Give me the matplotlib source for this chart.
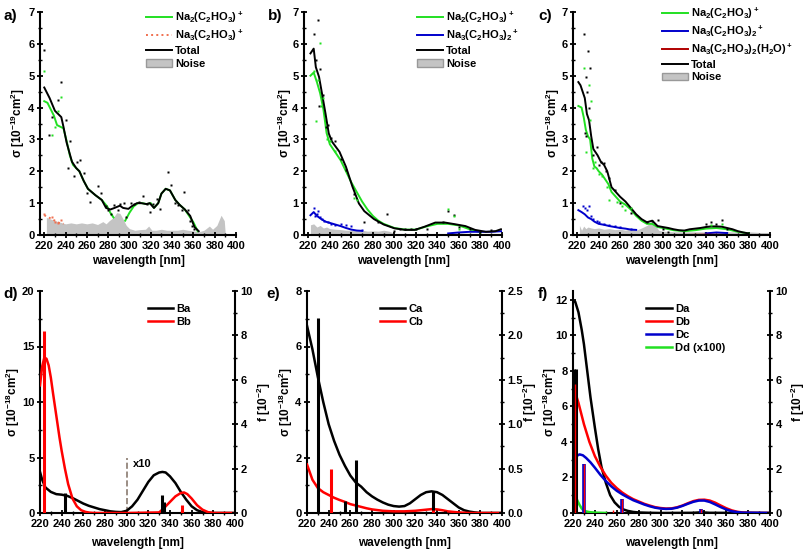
import numpy as np
import matplotlib
matplotlib.use("Agg")
import matplotlib.pyplot as plt
from matplotlib.lines import Line2D
from matplotlib.patches import Patch
from matplotlib.ticker import MultipleLocator

plt.rcParams["font.family"] = ["Liberation Sans", "DejaVu Sans"]
plt.rcParams["font.weight"] = "bold"
plt.rcParams["axes.labelweight"] = "bold"
plt.rcParams["mathtext.fontset"] = "custom"
plt.rcParams["mathtext.rm"] = "Liberation Sans:bold"
plt.rcParams["mathtext.it"] = "Liberation Sans:bold"
plt.rcParams["mathtext.bf"] = "Liberation Sans:bold"
plt.rcParams["mathtext.default"] = "rm"

GREEN = "#22e022"
BLUE = "#0000cc"
RED = "#ff0000"
GRAY = "#c4c4c4"

# ---------------- panel a (10^-19 cm^2) ----------------
a_tot_x = [220, 225, 230, 233, 236, 238, 241, 246, 250, 253, 257, 261, 268, 274, 278, 282, 286, 291, 294,
           299, 302, 307, 311, 316, 319, 323, 327, 330, 334, 338, 343, 347, 352, 357, 361, 365]
a_tot_y = [4.63, 4.3, 3.9, 3.8, 3.7, 3.4, 2.9, 2.3, 2.1, 2.0, 1.7, 1.45, 1.25, 1.1, 0.85, 0.8, 0.85, 0.92, 0.85,
           0.82, 0.9, 1.0, 1.0, 0.97, 1.0, 0.85, 1.0, 1.3, 1.45, 1.4, 1.1, 0.95, 0.8, 0.6, 0.25, 0.12]
a_na2_x = [220, 223, 226, 229, 232, 235, 238, 241, 244, 247, 250, 253, 257, 261, 268, 274, 279, 282, 285,
           290, 296, 300, 304, 308, 312, 316, 320, 323, 327, 330, 334, 338, 343, 347, 352, 356, 360, 364]
a_na2_y = [4.2, 4.15, 3.95, 3.75, 3.45, 3.4, 3.35, 2.95, 2.5, 2.2, 2.1, 2.0, 1.7, 1.45, 1.25, 1.1, 0.9, 0.7, 0.55,
           np.nan, 0.45, 0.7, 0.9, 1.0, 1.0, 0.97, 1.0, 0.85, 1.0, 1.3, 1.45, 1.4, 1.1, 0.95, 0.8, 0.6, 0.4, 0.12]
a_na3_x = [220, 226, 230, 234, 238]
a_na3_y = [0.62, 0.52, 0.45, 0.38, 0.35]
a_pts_x = [220, 224, 227, 233, 236, 240, 242, 244, 248, 251, 254, 257, 260, 263, 270, 273, 278, 280, 283,
           285, 289, 291, 295, 297, 301, 304, 309, 313, 316, 319, 322, 326, 329, 336, 339, 343, 346, 349,
           351, 355, 357, 359, 361]
a_pts_y = [5.82, 3.13, 3.69, 4.25, 4.81, 3.6, 2.1, 2.95, 1.85, 2.28, 2.35, 1.95, 1.33, 1.05, 1.55, 1.33, 0.92,
           0.78, 0.65, 0.95, 0.8, 0.98, 1.0, 0.55, 1.02, 0.98, 1.05, 1.22, 0.98, 0.72, 0.98, 1.12, 0.83, 1.98,
           1.57, 1.02, 0.95, 0.8, 1.35, 0.8, 0.45, 0.28, 0.2]
a_gpts_x = [220, 227, 230, 233, 236]
a_gpts_y = [5.16, 3.13, 3.4, 3.9, 4.34]
a_opts_x = [220, 227, 230, 233, 236]
a_opts_y = [0.65, 0.55, 0.42, 0.39, 0.47]
a_noise_x = [222, 226, 230, 235, 240, 245, 250, 255, 260, 265, 270, 275, 278, 281, 285, 288, 291, 294, 297,
             300, 305, 310, 315, 318, 321, 325, 330, 335, 340, 345, 350, 355, 360, 365, 370, 375, 378, 382,
             386, 389, 390]
a_noise_y = [0.55, 0.5, 0.45, 0.4, 0.35, 0.38, 0.35, 0.38, 0.35, 0.38, 0.33, 0.42, 0.35, 0.45, 0.55, 0.7, 0.68,
             0.5, 0.3, 0.2, 0.15, 0.17, 0.18, 0.28, 0.15, 0.15, 0.18, 0.15, 0.15, 0.15, 0.18, 0.15, 0.13, 0.1,
             0.15, 0.28, 0.18, 0.3, 0.62, 0.45, 0.0]

# ---------------- panel b (10^-18 cm^2) ----------------
b_tot_x = [222, 225, 227, 230, 233, 236, 239, 242, 249, 255, 261, 267, 272, 281, 290, 300, 310, 319, 328,
           338, 347, 356, 366, 375, 385, 394, 399]
b_tot_y = [5.7, 5.85, 5.27, 4.96, 4.39, 3.81, 3.19, 2.93, 2.61, 2.14, 1.52, 0.99, 0.75, 0.5, 0.33, 0.21, 0.16,
           0.16, 0.26, 0.39, 0.39, 0.34, 0.28, 0.16, 0.1, 0.12, 0.18]
b_na2_x = [222, 225, 228, 231, 234, 237, 240, 245, 250, 255, 260, 265, 270, 275, 280, 285, 290, 300, 310,
           320, 330, 340, 350, 360, 370, 380]
b_na2_y = [5.0, 5.1, 4.8, 4.45, 3.95, 3.2, 2.85, 2.6, 2.35, 2.0, 1.65, 1.35, 1.05, 0.8, 0.6, 0.45, 0.35,
           0.22, 0.17, 0.17, 0.27, 0.35, 0.35, 0.3, 0.18, 0.08]
b_na3_x = [222, 225, 228, 232, 236, 240, 245, 250, 255, 260, 265, 270, np.nan, 350, 360, 370, 380, 390, 400]
b_na3_y = [0.62, 0.72, 0.6, 0.5, 0.42, 0.38, 0.33, 0.28, 0.22, 0.17, 0.14, 0.13, np.nan, 0.05, 0.08, 0.1,
           0.1, 0.1, 0.12]
b_pts_x = [225, 227, 229, 230, 231, 234, 236, 238, 241, 245, 250, 255, 262, 272, 285, 293, 300, 305, 310,
           315, 320, 330, 345, 350, 355, 360, 370, 380, 390]
b_pts_y = [6.3, 5.5, 6.75, 4.05, 5.22, 4.4, 3.4, 3.45, 3.05, 2.95, 2.38, 2.05, 1.3, 0.42, 0.42, 0.65, 0.12,
           0.18, 0.2, 0.18, 0.2, 0.18, 0.42, 0.75, 0.62, 0.25, 0.2, 0.1, 0.15]
b_gpts_x = [225, 227, 229, 231, 232, 234, 237, 240, 245, 262, 265, 350, 355, 360]
b_gpts_y = [5.15, 3.58, 4.85, 6.02, 4.05, 4.3, 3.0, 2.95, 2.65, 1.15, 1.1, 0.82, 0.6, 0.2]
b_bpts_x = [225, 226, 228, 229, 231, 233, 235, 238, 241, 245, 250, 255, 260, 270]
b_bpts_y = [0.85, 0.6, 0.65, 0.75, 0.55, 0.5, 0.45, 0.4, 0.35, 0.32, 0.35, 0.3, 0.28, 0.15]
b_noise_x = [222, 225, 228, 231, 234, 237, 240, 245, 250, 255, 260, 265, 270, 275, 280, 285, 290, 295,
             300, 310, 320, 330, 340, 350, 360, 370, 380, 390, 400]
b_noise_y = [0.32, 0.35, 0.25, 0.3, 0.22, 0.25, 0.2, 0.18, 0.17, 0.15, 0.15, 0.14, 0.15, 0.12, 0.13, 0.12,
             0.15, 0.12, 0.05, 0.05, 0.04, 0.05, 0.04, 0.05, 0.06, 0.05, 0.04, 0.05, 0.05]

# ---------------- panel c (10^-18 cm^2) ----------------
c_tot_x = [221, 223, 225, 227, 229, 231, 233, 235, 237, 239, 242, 245, 248, 250, 252, 256, 260, 265, 270,
           275, 280, 285, 290, 295, 300, 305, 310, 315, 320, 325, 330, 335, 340, 345, 350, 355, 360, 365,
           370, 375, 380]
c_tot_y = [4.8, 4.7, 4.5, 4.3, 3.8, 3.6, 3.1, 2.7, 2.6, 2.5, 2.3, 2.2, 2.0, 1.75, 1.5, 1.35, 1.2, 1.05, 0.85,
           0.65, 0.5, 0.4, 0.45, 0.28, 0.25, 0.22, 0.18, 0.15, 0.14, 0.18, 0.2, 0.22, 0.25, 0.27, 0.27,
           0.26, 0.22, 0.18, 0.12, 0.08, 0.05]
c_na2_x = [221, 224, 226, 228, 230, 232, 234, 236, 238, 240, 243, 246, 249, 252, 256, 260, 265, 270, 275,
           280, 285, 290, 295, 300, 310, 320, 330, 340, 350, 360, 370, 380]
c_na2_y = [4.05, 4.0, 3.7, 3.3, 3.1, 3.0, 2.4, 2.15, 2.1, 2.0, 1.9, 1.75, 1.6, 1.35, 1.2, 1.05, 0.95, 0.8,
           0.6, 0.45, 0.35, 0.35, 0.25, 0.22, 0.15, 0.12, 0.15, 0.2, 0.22, 0.18, 0.1, 0.05]
c_na3_x = [221, 224, 227, 230, 233, 236, 240, 245, 250, 255, 260, 265, 270, 275, np.nan, 340, 350, 360]
c_na3_y = [0.78, 0.72, 0.65, 0.55, 0.5, 0.42, 0.35, 0.32, 0.28, 0.25, 0.22, 0.2, 0.17, 0.16, np.nan, 0.05,
           0.08, 0.06]
c_h2o_x = [300, 320, 340, 360, 380]
c_h2o_y = [0.01, 0.01, 0.02, 0.01, 0.0]
c_pts_x = [226, 227, 228, 228, 229, 230, 231, 232, 235, 238, 240, 242, 245, 247, 250, 255, 260, 270, 285,
           290, 295, 300, 305, 340, 345, 350, 355, 360]
c_pts_y = [6.3, 3.2, 3.1, 4.95, 4.5, 5.78, 4.0, 5.25, 2.5, 2.75, 2.2, 2.3, 2.25, 2.0, 1.8, 1.4, 1.0, 0.7,
           0.42, 0.45, 0.47, 0.18, 0.1, 0.35, 0.42, 0.35, 0.48, 0.2]
c_gpts_x = [226, 228, 231, 232, 233, 235, 237, 240, 243, 248, 250, 257, 262, 265, 270, 345, 355]
c_gpts_y = [5.25, 2.6, 4.7, 3.6, 4.2, 2.1, 2.3, 1.9, 1.85, 1.5, 1.1, 1.05, 0.9, 0.8, 0.85, 0.3, 0.35]
c_bpts_x = [225, 227, 229, 231, 233, 235, 238, 240, 245, 250, 255, 260, 270]
c_bpts_y = [0.9, 0.85, 0.8, 0.9, 0.6, 0.5, 0.45, 0.4, 0.35, 0.3, 0.28, 0.25, 0.2]
c_noise_x = [222, 224, 226, 228, 230, 233, 236, 240, 245, 250, 255, 260, 265, 270, 275, 280, 285, 290, 293,
             296, 300, 310, 320, 330, 340, 350, 360, 370, 380, 390, 400]
c_noise_y = [0.3, 0.15, 0.28, 0.2, 0.25, 0.22, 0.2, 0.22, 0.18, 0.2, 0.17, 0.18, 0.15, 0.2, 0.15, 0.22, 0.3,
             0.42, 0.3, 0.15, 0.12, 0.1, 0.1, 0.1, 0.1, 0.1, 0.1, 0.1, 0.1, 0.08, 0.08]

# ---------------- panel d (calc, 10^-18 cm^2, f in 10^-2) ----------------
d_ba_x = [220, 222, 225, 230, 235, 240, 245, 250, 255, 260, 265, 270, 275, 280, 285, 290, 295, 300, 305,
          310, 315, 320, 325, 330, 333, 336, 340, 345, 350, 355, 360, 365, 370, 375, 380, 400]
d_ba_y = [3.7, 3.0, 2.3, 1.9, 1.7, 1.65, 1.55, 1.35, 1.1, 0.85, 0.65, 0.5, 0.35, 0.25, 0.15, 0.1, 0.08, 0.2,
          0.6, 1.2, 2.0, 2.8, 3.4, 3.65, 3.7, 3.65, 3.3, 2.7, 1.9, 1.2, 0.6, 0.25, 0.08, 0.02, 0.0, 0.0]
d_bb_x = [220, 222, 224, 226, 228, 230, 232, 235, 238, 240, 243, 246, 250, 254, 258, 262, 266, 270, 300,
          330, 335, 340, 345, 350, 353, 356, 360, 365, 370, 375, 380, 400]
d_bb_y = [11.5, 13.2, 14.0, 13.9, 13.3, 12.2, 10.8, 8.8, 6.8, 5.6, 4.0, 2.6, 1.3, 0.6, 0.25, 0.1, 0.03, 0.0,
          0.0, 0.05, 0.5, 1.0, 1.5, 1.8, 1.85, 1.7, 1.3, 0.7, 0.3, 0.08, 0.0, 0.0]
d_fa_x = [243, 332.5, 334.5]
d_fa_f = [0.9, 0.8, 0.5]
d_fb_x = [224, 351]
d_fb_f = [8.2, 0.35]

# ---------------- panel e ----------------
e_ca_x = [220, 225, 230, 235, 240, 245, 250, 255, 260, 265, 270, 275, 280, 285, 290, 295, 300, 305, 310,
          315, 320, 325, 330, 335, 340, 345, 350, 355, 360, 365, 370, 375, 380, 400]
e_ca_y = [6.75, 5.9, 4.9, 4.0, 3.2, 2.6, 2.1, 1.7, 1.35, 1.1, 0.95, 0.75, 0.6, 0.48, 0.38, 0.3, 0.25, 0.23,
          0.25, 0.35, 0.5, 0.65, 0.75, 0.78, 0.75, 0.65, 0.5, 0.35, 0.2, 0.1, 0.05, 0.02, 0.0, 0.0]
e_cb_x = [220, 225, 230, 235, 240, 245, 250, 255, 260, 265, 270, 275, 280, 290, 300, 310, 320, 330, 335,
          340, 345, 350, 360, 370, 400]
e_cb_y = [1.75, 1.2, 0.9, 0.75, 0.65, 0.55, 0.47, 0.4, 0.32, 0.27, 0.22, 0.17, 0.13, 0.08, 0.06, 0.06, 0.08,
          0.12, 0.14, 0.13, 0.1, 0.06, 0.02, 0.0, 0.0]
e_fa_x = [230, 255, 265, 336, 347]
e_fa_f = [2.2, 0.14, 0.6, 0.25, 0.02]
e_fb_x = [242, 336]
e_fb_f = [0.5, 0.03]

# ---------------- panel f ----------------
f_da_x = [220, 222, 225, 228, 230, 233, 236, 240, 243, 246, 250, 254, 258, 262, 266, 270, 275, 280, 290,
          300, 330, 337, 345, 400]
f_da_y = [11.9, 11.9, 11.3, 10.3, 9.5, 8.0, 6.5, 4.8, 3.6, 2.6, 1.7, 1.0, 0.6, 0.35, 0.2, 0.12, 0.06, 0.03,
          0.01, 0.0, 0.01, 0.04, 0.01, 0.0]
f_db_x = [220, 222, 225, 230, 235, 240, 245, 250, 255, 260, 265, 270, 275, 280, 285, 290, 295, 300, 305,
          310, 315, 320, 325, 330, 335, 340, 345, 350, 355, 360, 365, 370, 375, 380, 390, 400]
f_db_y = [7.2, 6.8, 6.2, 5.0, 4.0, 3.2, 2.6, 2.1, 1.7, 1.4, 1.15, 0.95, 0.78, 0.65, 0.52, 0.42, 0.33, 0.28,
          0.25, 0.26, 0.32, 0.42, 0.55, 0.67, 0.74, 0.75, 0.7, 0.58, 0.42, 0.27, 0.15, 0.07, 0.03, 0.01,
          0.0, 0.0]
f_dc_x = [220, 223, 226, 229, 232, 236, 240, 245, 250, 255, 260, 265, 270, 275, 280, 285, 290, 295, 300,
          305, 310, 315, 320, 325, 330, 335, 340, 345, 350, 355, 360, 365, 370, 375, 400]
f_dc_y = [3.0, 3.2, 3.3, 3.25, 3.1, 2.85, 2.55, 2.15, 1.8, 1.5, 1.25, 1.05, 0.88, 0.72, 0.6, 0.48, 0.38, 0.3,
          0.25, 0.23, 0.24, 0.3, 0.4, 0.52, 0.63, 0.7, 0.7, 0.62, 0.48, 0.33, 0.2, 0.1, 0.05, 0.02, 0.0]
f_dd_x = [220, 222, 224, 226, 228, 230, 235, 240, 245, 250]
f_dd_y = [1.6, 1.0, 0.7, 0.45, 0.25, 0.12, 0.05, 0.02, 0.01, 0.0]
f_fa_x = [221, 222.5]
f_fa_f = [6.5, 6.5]
f_fb_x = [221.5, 230, 257, 265, 337]
f_fb_f = [5.8, 2.2, 0.15, 0.65, 0.2]
f_fc_x = [230, 265, 337]
f_fc_f = [2.2, 0.65, 0.2]

fig = plt.figure(figsize=(8.07, 5.53), dpi=100)
W, H = 807, 553


def add_axes(left, right, top, bottom):
    return fig.add_axes([left / W, 1 - bottom / H, (right - left) / W, (bottom - top) / H])


def style(ax, xmin, ymax, ymaj, ymin, xlabpad):
    ax.set_xlim(xmin, 400)
    ax.set_ylim(0, ymax)
    ax.spines[["top", "right"]].set_visible(False)
    for s in ax.spines.values():
        s.set_linewidth(1.5)
    ax.xaxis.set_minor_locator(MultipleLocator(10))
    ax.yaxis.set_major_locator(MultipleLocator(ymaj))
    ax.yaxis.set_minor_locator(MultipleLocator(ymin))
    ax.set_xticks(np.arange(220, 401, 20))
    ax.tick_params(which="major", direction="inout", length=5, width=1.3, labelsize=8, pad=1.5)
    ax.tick_params(which="minor", direction="inout", length=3, width=1.0)
    ax.set_xlabel("wavelength [nm]", fontsize=8.5, labelpad=xlabpad)


def left_label(ax, text, xpos):
    ax.set_ylabel(text, fontsize=8.5)
    ax.yaxis.set_label_coords(xpos, 0.5)


def right_axis(ax, fmax, fmaj, fmin, xpos):
    ax2 = ax.twinx()
    ax2.set_ylim(0, fmax)
    ax2.spines[["top", "left", "bottom"]].set_visible(False)
    ax2.spines["right"].set_linewidth(1.5)
    ax2.yaxis.set_major_locator(MultipleLocator(fmaj))
    ax2.yaxis.set_minor_locator(MultipleLocator(fmin))
    ax2.tick_params(which="major", direction="inout", length=5, width=1.3, labelsize=8, pad=1.5)
    ax2.tick_params(which="minor", direction="inout", length=3, width=1.0)
    ax2.set_ylabel("f [10$^{-2}$]", fontsize=8.5, rotation=90)
    ax2.yaxis.set_label_coords(xpos, 0.5)
    return ax2


def dots(ax, x, y, c):
    ax.plot(x, y, "s", ms=2, color=c, mec="none", zorder=4)


na2 = "Na$_2$(C$_2$HO$_3$)$^+$"
na3 = "Na$_3$(C$_2$HO$_3$)$^+$"
na3b = "Na$_3$(C$_2$HO$_3$)$_2$$^+$"
na3w = "Na$_3$(C$_2$HO$_3$)$_2$(H$_2$O)$^+$"
noise_patch = Patch(facecolor=GRAY, edgecolor="#999999", label="Noise")
leg_kw = dict(frameon=False, fontsize=8, handlelength=2.3, handletextpad=0.3, labelspacing=0.25,
              borderaxespad=0, loc="upper left")
sig18 = "σ [10$^{-18}$cm$^2$]"

# panel a
ax = add_axes(40, 236, 12, 235)
style(ax, 216, 7, 1, 0.5, 3)
left_label(ax, "σ [10$^{-19}$cm$^2$]", -0.066)
ax.fill_between(a_noise_x, 0, a_noise_y, color=GRAY, lw=0, zorder=1)
ax.plot(a_na2_x, a_na2_y, color=GREEN, lw=1.4, zorder=2)
ax.plot(a_na3_x, a_na3_y, ":", color="#f07050", lw=1.4, zorder=2)
ax.plot(a_tot_x, a_tot_y, color="black", lw=1.4, zorder=3)
dots(ax, a_pts_x, a_pts_y, "black")
dots(ax, a_gpts_x, a_gpts_y, GREEN)
dots(ax, a_opts_x, a_opts_y, "#f07050")
ax.legend(handles=[Line2D([], [], color=GREEN, lw=1.4, label=na2),
                   Line2D([], [], color="#f07050", lw=1.4, ls=":", label=na3),
                   Line2D([], [], color="black", lw=1.4, label="Total"), noise_patch],
          bbox_to_anchor=(0.52, 1.03), **leg_kw)
fig.text(3 / W, 1 - 20 / H, "a)", fontsize=11, fontweight="bold")

# panel b
ax = add_axes(304, 502, 12, 235)
style(ax, 216, 7, 1, 0.5, 3)
left_label(ax, sig18, -0.052)
ax.fill_between(b_noise_x, 0, b_noise_y, color=GRAY, lw=0, zorder=1)
ax.plot(b_na2_x, b_na2_y, color=GREEN, lw=1.4, zorder=2)
ax.plot(b_na3_x, b_na3_y, color=BLUE, lw=1.4, zorder=2)
ax.plot(b_tot_x, b_tot_y, color="black", lw=1.4, zorder=3)
dots(ax, b_pts_x, b_pts_y, "black")
dots(ax, b_gpts_x, b_gpts_y, GREEN)
dots(ax, b_bpts_x, b_bpts_y, BLUE)
ax.legend(handles=[Line2D([], [], color=GREEN, lw=1.4, label=na2),
                   Line2D([], [], color=BLUE, lw=1.4, label=na3b),
                   Line2D([], [], color="black", lw=1.4, label="Total"), noise_patch],
          bbox_to_anchor=(0.55, 1.03), **leg_kw)
fig.text(268 / W, 1 - 20 / H, "b)", fontsize=11, fontweight="bold")

# panel c
ax = add_axes(573, 770, 12, 235)
style(ax, 216, 7, 1, 0.5, 3)
left_label(ax, sig18, -0.055)
ax.fill_between(c_noise_x, 0, c_noise_y, color=GRAY, lw=0, zorder=1)
ax.plot(c_na2_x, c_na2_y, color=GREEN, lw=1.4, zorder=2)
ax.plot(c_na3_x, c_na3_y, color=BLUE, lw=1.4, zorder=2)
ax.plot(c_h2o_x, c_h2o_y, color="#b00000", lw=1.0, zorder=2)
ax.plot(c_tot_x, c_tot_y, color="black", lw=1.4, zorder=3)
dots(ax, c_pts_x, c_pts_y, "black")
dots(ax, c_gpts_x, c_gpts_y, GREEN)
dots(ax, c_bpts_x, c_bpts_y, BLUE)
ax.legend(handles=[Line2D([], [], color=GREEN, lw=1.4, label=na2),
                   Line2D([], [], color=BLUE, lw=1.4, label=na3b),
                   Line2D([], [], color="#b00000", lw=1.4, label=na3w),
                   Line2D([], [], color="black", lw=1.4, label="Total"), noise_patch],
          bbox_to_anchor=(0.43, 1.05), **leg_kw)
fig.text(538 / W, 1 - 20 / H, "c)", fontsize=11, fontweight="bold")

# panel d
ax = add_axes(40, 235, 291, 513)
style(ax, 220, 20, 5, 2.5, 6)
left_label(ax, sig18, -0.09)
ax2 = right_axis(ax, 10, 2, 1, 1.103)
ax.plot(d_ba_x, d_ba_y, color="black", lw=1.8, label="Ba", zorder=3)
ax.plot(d_bb_x, d_bb_y, color=RED, lw=1.8, label="Bb", zorder=3)
ax.axvline(300, ymax=5 / 20, color="#8a7a70", ls="--", lw=1.2)
ax.text(306, 4.1, "x10", fontsize=8, fontweight="bold")
ax2.vlines(d_fa_x, 0, d_fa_f, color="black", lw=2.2)
ax2.vlines(d_fb_x, 0, d_fb_f, color=RED, lw=2.2)
ax.legend(bbox_to_anchor=(0.53, 0.96), **leg_kw)
fig.text(3 / W, 1 - 298 / H, "d)", fontsize=11, fontweight="bold")

# panel e
ax = add_axes(307, 502, 291, 513)
style(ax, 220, 8, 2, 1, 6)
left_label(ax, sig18, -0.062)
ax2 = right_axis(ax, 2.5, 0.5, 0.25, 1.097)
ax.plot(e_ca_x, e_ca_y, color="black", lw=1.8, label="Ca", zorder=3)
ax.plot(e_cb_x, e_cb_y, color=RED, lw=1.8, label="Cb", zorder=3)
ax2.vlines(e_fa_x, 0, e_fa_f, color="black", lw=2.2)
ax2.vlines(e_fb_x, 0, e_fb_f, color=RED, lw=2.2)
ax.legend(bbox_to_anchor=(0.35, 0.96), **leg_kw)
fig.text(266 / W, 1 - 298 / H, "e)", fontsize=11, fontweight="bold")

# panel f
ax = add_axes(573, 770, 291, 513)
style(ax, 220, 12.5, 2, 1, 6)
left_label(ax, sig18, -0.072)
ax2 = right_axis(ax, 10, 2, 1, 1.097)
ax.plot(f_da_x, f_da_y, color="black", lw=1.8, label="Da", zorder=3)
ax.plot(f_db_x, f_db_y, color=RED, lw=1.8, label="Db", zorder=3)
ax.plot(f_dc_x, f_dc_y, color=BLUE, lw=1.8, label="Dc", zorder=3)
ax.plot(f_dd_x, f_dd_y, color=GREEN, lw=1.8, label="Dd (x100)", zorder=3)
ax2.vlines(f_fa_x, 0, f_fa_f, color="black", lw=2.2)
ax2.vlines(f_fc_x, 0, f_fc_f, color=BLUE, lw=2.6)
ax2.vlines(f_fb_x, 0, f_fb_f, color=RED, lw=1.0)
ax.legend(bbox_to_anchor=(0.35, 0.96), **leg_kw)
fig.text(538 / W, 1 - 298 / H, "f)", fontsize=11, fontweight="bold")

fig.savefig("out.png", dpi=100)
